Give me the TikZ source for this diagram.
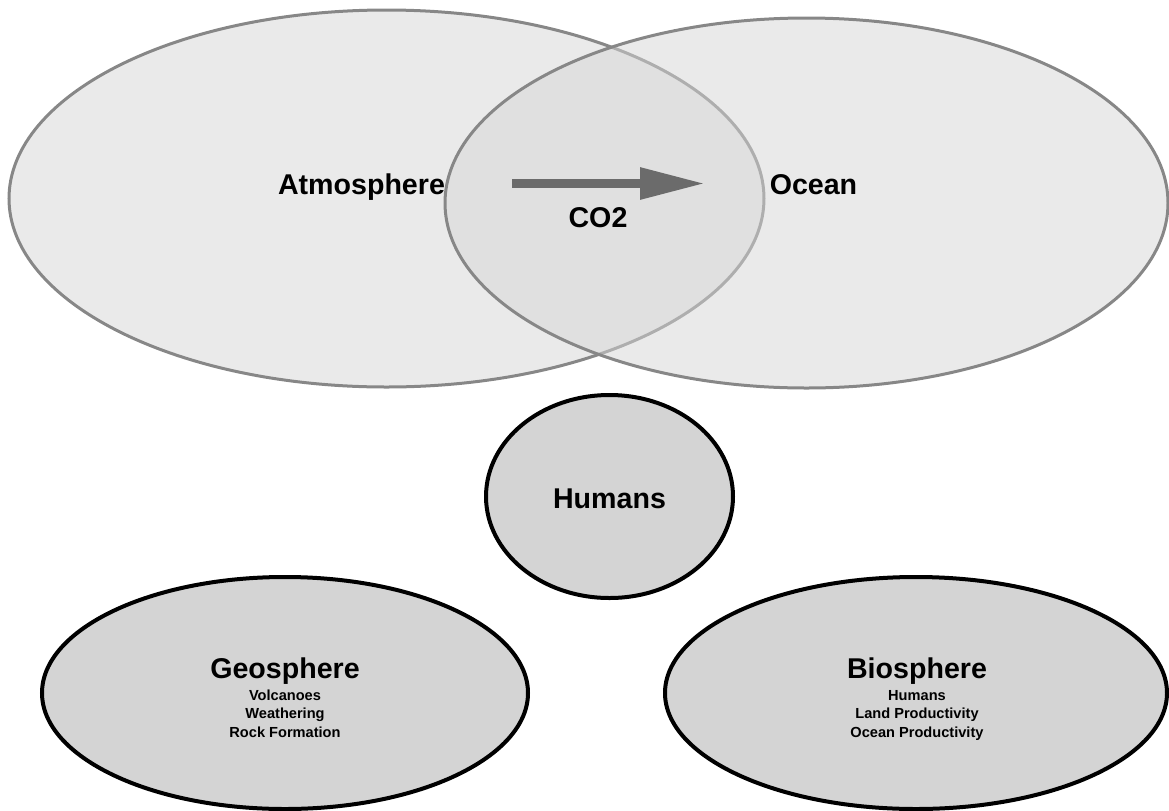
\documentclass[tikz,border=0pt]{standalone}
\usepackage{fontspec}
\setmainfont{Liberation Sans}
\usetikzlibrary{shapes.geometric,arrows.meta}

\begin{document}
\begin{tikzpicture}[x=0.5pt,y=-0.5pt,
  reservoir/.style={ellipse,draw=black!47,line width=1.5pt,fill=black!16,fill opacity=0.5,inner sep=0pt},
  sphere/.style={ellipse,draw=black,line width=2pt,fill=black!17,inner sep=0pt},
  title/.style={anchor=base,font=\bfseries\fontsize{14.3}{16}\selectfont},
  subtxt/.style={anchor=base,font=\bfseries\fontsize{7.3}{9}\selectfont},
  co2arrow/.style={draw=black!58,line width=4.5pt,-{Triangle[length=32.5pt,width=15pt]}}]

  \useasboundingbox (0,0) rectangle (1169,810);

  % ====================================================
  % TOP: ATMOSPHERE / OCEAN EXCHANGE
  % ====================================================

  \node[reservoir,minimum width=377.5pt,minimum height=188.5pt] (atmosphere) at (386.5,198.5) {};
  \node[reservoir,minimum width=361.5pt,minimum height=185pt] (ocean) at (806.5,203) {};

  \node[title] (atmolabel) at (361.5,194) {Atmosphere};
  \node[title] (oceanlabel) at (813.5,194) {Ocean};

  % CO2 flux arrow
  \coordinate (co2start) at (512,183.5);
  \coordinate (co2end) at (705,183.5);
  \draw[co2arrow] (co2start) -- (co2end);
  \node[title] (co2label) at (598,227) {CO2};

  % ====================================================
  % MIDDLE: HUMANS
  % ====================================================

  \node[sphere,minimum width=123.5pt,minimum height=101.5pt] (humans) at (609.5,496.5) {};
  \node[title] (humanslabel) at (609.5,508) {Humans};

  % ====================================================
  % BOTTOM: GEOSPHERE AND BIOSPHERE
  % ====================================================

  % Geosphere
  \node[sphere,minimum width=243pt,minimum height=116pt] (geosphere) at (285,693) {};
  \node[title] (geolabel) at (285,678) {Geosphere};
  \foreach \txt [count=\i] in {Volcanoes,Weathering,Rock Formation}
    \node[subtxt] (geo\i) at (285,681.5+18.5*\i) {\txt};

  % Biosphere
  \node[sphere,minimum width=251pt,minimum height=116pt] (biosphere) at (916,693) {};
  \node[title] (biolabel) at (917,678) {Biosphere};
  \foreach \txt [count=\i] in {Humans,Land Productivity,Ocean Productivity}
    \node[subtxt] (bio\i) at (917,681.5+18.5*\i) {\txt};

\end{tikzpicture}
\end{document}
